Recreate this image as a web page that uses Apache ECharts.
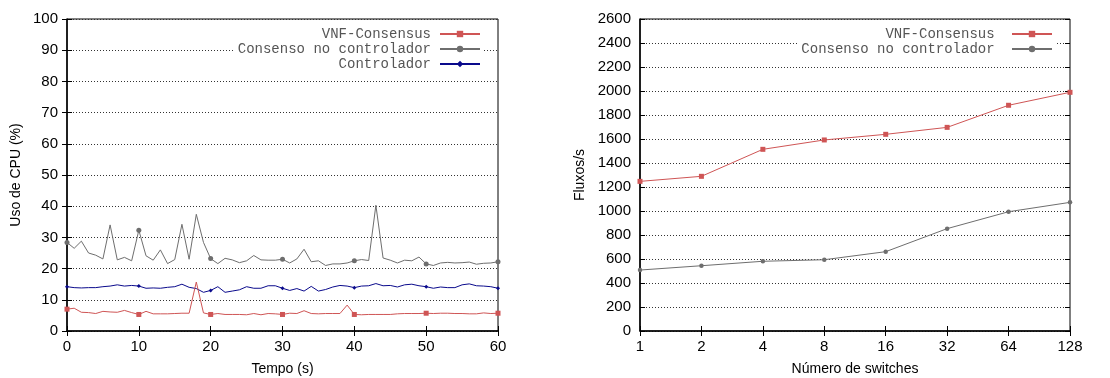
<!DOCTYPE html>
<html>
<head>
<meta charset="utf-8">
<script src="https://cdn.jsdelivr.net/npm/echarts@6/dist/echarts.min.js"></script>
<style>html,body{margin:0;padding:0;background:#fff}#c{width:1110px;height:378px}</style>
</head>
<body>
<div id="c"></div>
<script>
// Left chart: CPU usage over time (s = 0..60)
var vnfCpu = [7.0,7.3,6.0,5.9,5.6,6.3,6.1,6.0,6.6,5.9,5.3,6.3,5.5,5.5,5.5,5.6,5.7,5.7,15.7,5.8,5.3,5.6,5.3,5.3,5.3,5.2,5.6,5.2,5.6,5.5,5.3,5.7,5.6,6.5,5.6,5.5,5.6,5.6,5.6,8.3,5.3,5.2,5.3,5.3,5.3,5.3,5.5,5.6,5.6,5.6,5.7,5.6,5.7,5.7,5.6,5.6,5.5,5.5,5.8,5.6,5.7];
var consensoCpu = [28.4,26.5,28.8,25.0,24.3,23.1,34.0,22.8,23.6,22.5,32.3,24.1,22.7,26.0,21.6,22.9,34.2,23.0,37.4,28.4,23.2,21.6,23.3,22.8,21.9,22.5,24.2,22.8,22.7,22.7,23.0,21.8,23.1,26.2,22.2,22.5,21.0,21.5,21.5,21.8,22.5,22.9,22.6,40.3,23.4,22.7,21.8,22.7,22.5,23.7,21.5,21.0,21.8,22.0,21.8,21.9,22.1,21.4,21.7,21.8,22.2];
var controladorCpu = [14.2,13.9,13.8,13.9,13.9,14.2,14.4,14.8,14.4,14.6,14.4,13.7,13.8,13.7,14.0,14.2,15.0,14.0,13.6,12.4,13.0,14.2,12.4,12.8,13.2,14.2,13.7,13.7,14.5,14.5,13.7,13.0,13.6,12.8,14.3,12.8,13.3,14.1,14.6,14.4,13.9,14.4,14.5,15.2,14.5,14.6,14.1,14.8,15.0,14.5,14.2,13.7,14.1,13.9,13.9,14.8,15.1,14.5,14.4,14.2,13.7];
var cpuYTicks = {min:0, max:100, interval:10};
var timeTicks = {min:0, max:60, interval:10};
var markerEvery = 10;

// Right chart: flows/s vs number of switches
var switchCats = ['1','2','4','8','16','32','64','128'];
var vnfFlows = [1247,1289,1514,1592,1639,1697,1881,1989];
var consensoFlows = [508,544,581,594,661,853,994,1072];
var flowYTicks = {min:0, max:2600, interval:200};

var names = ['VNF-Consensus','Consenso no controlador','Controlador'];
var colors = ['#cf5555','#6e6e6e','#0a0a8c'];

function series(arr){
  return arr.map(function(v,i){
    var d = {value:[i,v]};
    if (i % markerEvery !== 0) d.symbol = 'none';
    return d;
  });
}

var labelFont = {fontFamily:'Liberation Sans, Arial, sans-serif', fontSize:15, color:'#000'};
var nameFont = {fontFamily:'Liberation Sans, Arial, sans-serif', fontSize:14, color:'#000'};
var split = {show:true, lineStyle:{type:[1,2], color:'#333', width:1}};
var tickIn = {show:true, inside:true, length:5, lineStyle:{color:'#000'}};
var plain = function(v){ return String(v); };
var legendText = {fontFamily:'Liberation Mono, Courier New, monospace', fontSize:14, color:'#555', padding:[0,4,0,0]};

var option = {
  animation:false,
  backgroundColor:'#fff',
  grid:[
    {left:67, right:612, top:19, bottom:47, outerBoundsMode:'none', containLabel:false, show:true, borderColor:'#000', borderWidth:1, backgroundColor:'transparent'},
    {left:640, right:40, top:19, bottom:47, outerBoundsMode:'none', containLabel:false, show:true, borderColor:'#000', borderWidth:1, backgroundColor:'transparent'}
  ],
  legend:[
    {orient:'vertical', right:626, top:24, align:'right', itemWidth:40, itemHeight:8, itemGap:1,
     backgroundColor:'#fff', padding:[3,3,3,3], textStyle:legendText,
     data:[names[0],names[1],names[2]]},
    {orient:'vertical', right:54, top:24, align:'right', itemWidth:40, itemHeight:8, itemGap:1,
     backgroundColor:'#fff', padding:[3,3,3,3], textStyle:legendText,
     data:[names[0]+' ', names[1]+' ']}
  ],
  xAxis:[
    {type:'value', gridIndex:0, min:timeTicks.min, max:timeTicks.max, interval:timeTicks.interval,
     name:'Tempo (s)', nameLocation:'middle', nameGap:31, nameTextStyle:nameFont,
     axisLine:{show:true, lineStyle:{color:'#000', width:1.5}}, axisTick:tickIn,
     axisLabel:Object.assign({margin:8, formatter:plain}, labelFont), splitLine:{show:false}},
    {type:'value', gridIndex:0, position:'top', min:timeTicks.min, max:timeTicks.max, interval:timeTicks.interval,
     axisLine:{show:false}, axisTick:tickIn, axisLabel:{show:false}, splitLine:{show:false}},
    {type:'category', gridIndex:1, data:switchCats, boundaryGap:false,
     name:'Número de switches', nameLocation:'middle', nameGap:31, nameTextStyle:nameFont,
     axisLine:{show:true, lineStyle:{color:'#000', width:1.5}}, axisTick:Object.assign({alignWithLabel:true}, tickIn),
     axisLabel:Object.assign({margin:8}, labelFont), splitLine:{show:false}},
    {type:'category', gridIndex:1, position:'top', data:switchCats, boundaryGap:false,
     axisLine:{show:false}, axisTick:tickIn, axisLabel:{show:false}, splitLine:{show:false}}
  ],
  yAxis:[
    {type:'value', gridIndex:0, min:cpuYTicks.min, max:cpuYTicks.max, interval:cpuYTicks.interval,
     name:'Uso de CPU (%)', nameLocation:'middle', nameGap:44, nameTextStyle:nameFont,
     axisLine:{show:true, lineStyle:{color:'#000', width:1.5}}, axisTick:tickIn,
     axisLabel:Object.assign({margin:9, formatter:plain}, labelFont), splitLine:split},
    {type:'value', gridIndex:0, position:'right', min:cpuYTicks.min, max:cpuYTicks.max, interval:cpuYTicks.interval,
     axisLine:{show:false}, axisTick:tickIn, axisLabel:{show:false}, splitLine:{show:false}},
    {type:'value', gridIndex:1, min:flowYTicks.min, max:flowYTicks.max, interval:flowYTicks.interval,
     name:'Fluxos/s', nameLocation:'middle', nameGap:53, nameTextStyle:nameFont,
     axisLine:{show:true, lineStyle:{color:'#000', width:1.5}}, axisTick:tickIn,
     axisLabel:Object.assign({margin:9, formatter:plain}, labelFont), splitLine:split},
    {type:'value', gridIndex:1, position:'right', min:flowYTicks.min, max:flowYTicks.max, interval:flowYTicks.interval,
     axisLine:{show:false}, axisTick:tickIn, axisLabel:{show:false}, splitLine:{show:false}}
  ],
  series:[
    {name:names[0], type:'line', xAxisIndex:0, yAxisIndex:0, data:series(vnfCpu), showAllSymbol:true,
     symbol:'rect', symbolSize:5, color:colors[0], lineStyle:{width:1, color:colors[0]}, itemStyle:{color:colors[0]}, z:4},
    {name:names[1], type:'line', xAxisIndex:0, yAxisIndex:0, data:series(consensoCpu), showAllSymbol:true,
     symbol:'circle', symbolSize:5, color:colors[1], lineStyle:{width:1, color:colors[1]}, itemStyle:{color:colors[1]}, z:3},
    {name:names[2], type:'line', xAxisIndex:0, yAxisIndex:0, data:series(controladorCpu), showAllSymbol:true,
     symbol:'diamond', symbolSize:4, color:colors[2], lineStyle:{width:1, color:colors[2]}, itemStyle:{color:colors[2]}, z:3},
    {name:names[0]+' ', type:'line', xAxisIndex:2, yAxisIndex:2, data:vnfFlows, showAllSymbol:true,
     symbol:'rect', symbolSize:5, color:colors[0], lineStyle:{width:1, color:colors[0]}, itemStyle:{color:colors[0]}, z:4},
    {name:names[1]+' ', type:'line', xAxisIndex:2, yAxisIndex:2, data:consensoFlows, showAllSymbol:true,
     symbol:'circle', symbolSize:4.5, color:colors[1], lineStyle:{width:1, color:colors[1]}, itemStyle:{color:colors[1]}, z:3}
  ]
};
var chart = echarts.init(document.getElementById('c'), null, {renderer:'canvas'});
chart.setOption(option);
</script>
</body>
</html>
